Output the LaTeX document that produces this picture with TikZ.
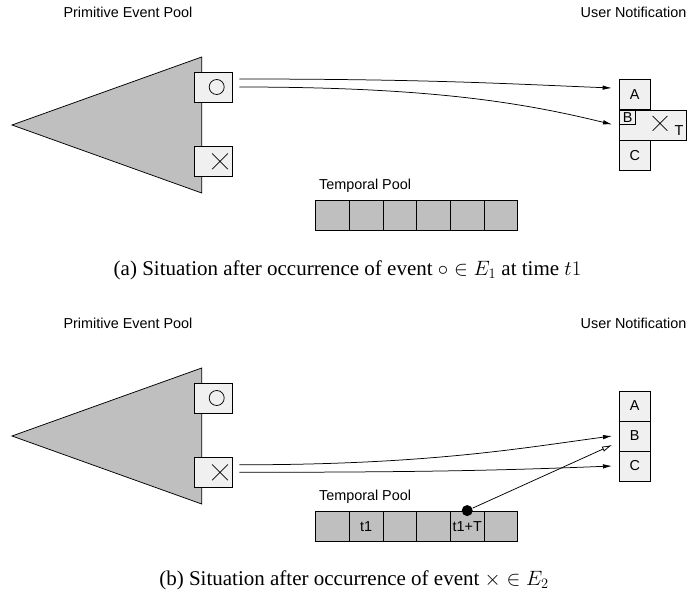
\documentclass[tikz,border=0pt]{standalone}
\usepackage{fontspec}
\setmainfont{Liberation Serif}
\setsansfont{Liberation Sans}
\usetikzlibrary{arrows.meta, shapes.misc}

\begin{document}
\begin{tikzpicture}[x=1pt, y=-1pt, node distance={30pt}, line width=0.75pt,
    txt/.style = {font=\sffamily\fontsize{14.4}{16}\selectfont},
    subcap/.style = {font=\fontsize{21}{24}\selectfont, anchor=base},
    ev/.style = {draw, fill=gray!12, minimum width=38pt, minimum height=30pt, inner sep=0pt},
    note/.style = {draw, fill=gray!12, minimum width=30.7pt, minimum height=30pt, inner sep=0pt, txt},
    cell/.style = {draw, fill=gray!50, minimum width=33.67pt, minimum height=30.7pt, inner sep=0pt, txt},
    xmark/.style = {draw, cross out, minimum size=15pt, inner sep=0pt},
    omark/.style = {draw, circle, minimum size=15pt, inner sep=0pt},
    dot/.style = {circle, fill, minimum size=11pt, inner sep=0pt},
    sendto/.style = {-{Latex[length=9pt, width=4.5pt]}}]
    \useasboundingbox (0,0) rectangle (691,605);

    % (a) after the circle event
    \node[txt, anchor=base] (a-prim) at (128,17) {Primitive Event Pool};
    \node[txt, anchor=base east] (a-user) at (690,17) {User Notification};
    \draw[fill=gray!50] (201.7,57) -- (12,125) -- (201.7,193) -- cycle;
    \node[ev] (a-o) at (213,87) {};
    \node[omark] (a-om) at ([xshift=3.7pt]a-o.center) {};
    \node[ev] (a-x) at (213,161.3) {};
    \node[xmark] (a-xm) at ([xshift=7pt]a-x.center) {};

    \node[note] (a-A) at (634.7,94.3) {A};
    \node[draw, fill=gray!12, minimum width=67.4pt, minimum height=30pt, inner sep=0pt, anchor=north west] (a-Brow) at (a-A.south west) {};
    \node[draw, txt, minimum width=16.4pt, minimum height=14pt, inner sep=0pt, anchor=north west] (a-B) at (a-A.south west) {B};
    \node[xmark, minimum size=14pt] (a-Bx) at (660,123.3) {};
    \node[txt, anchor=base] (a-T) at (679,135) {T};
    \node[note, anchor=north west] (a-C) at (a-Brow.south west) {C};

    \foreach \i in {1,...,6}
        \node[cell] (a-c\i) at (298.87+\i*33.67, 215.3) {};
    \node[txt, anchor=base west] (a-tp) at ([yshift=10pt]a-c1.north west) {Temporal Pool};

    \draw[sendto] ([shift={(7pt,8pt)}]a-o.east) .. controls +(190,0) and +(-100,-4) .. ([shift={(-7.3pt,6.3pt)}]a-A.west);
    \draw[sendto] ([xshift=7pt]a-o.east) .. controls +(190,0) and +(-90,-22) .. ([xshift=-7pt]a-B.south west);

    \node[subcap] (a-cap) at (347.5,275) {(a) Situation after occurrence of event $\circ \in E_1$ at time $t1$};

    % (b) after the cross event
    \node[txt, anchor=base] (b-prim) at (128,328) {Primitive Event Pool};
    \node[txt, anchor=base east] (b-user) at (690,328) {User Notification};
    \draw[fill=gray!50] (201.7,368) -- (12,436) -- (201.7,504) -- cycle;
    \node[ev] (b-o) at (213,398) {};
    \node[omark] (b-om) at ([xshift=3.7pt]b-o.center) {};
    \node[ev] (b-x) at (213,472.3) {};
    \node[xmark] (b-xm) at ([xshift=7pt]b-x.center) {};

    \node[note] (b-A) at (634.7,406) {A};
    \node[note] (b-B) [below of=b-A] {B};
    \node[note] (b-C) [below of=b-B] {C};

    \foreach \i/\t in {1/{},2/t1,3/{},4/{},5/t1+T,6/{}}
        \node[cell] (b-c\i) at (298.87+\i*33.67, 526.3) {\t};
    \node[txt, anchor=base west] (b-tp) at ([yshift=10pt]b-c1.north west) {Temporal Pool};
    \node[dot] (b-dot) at (b-c5.north) {};

    \draw[sendto] ([shift={(7pt,7.5pt)}]b-x.east) .. controls +(190,0) and +(-90,12) .. ([xshift=-7pt]b-B.west);
    \draw[sendto] ([xshift=7pt]b-x.east) .. controls +(190,0) and +(-100,4) .. ([xshift=-7pt]b-C.west);
    \draw[-{Latex[open, length=10pt, width=5.5pt]}] (b-dot) -- ([shift={(-7pt,-9pt)}]b-B.west);

    \node[subcap] (b-cap) at (354,585) {(b) Situation after occurrence of event $\times \in E_2$};
\end{tikzpicture}
\end{document}
